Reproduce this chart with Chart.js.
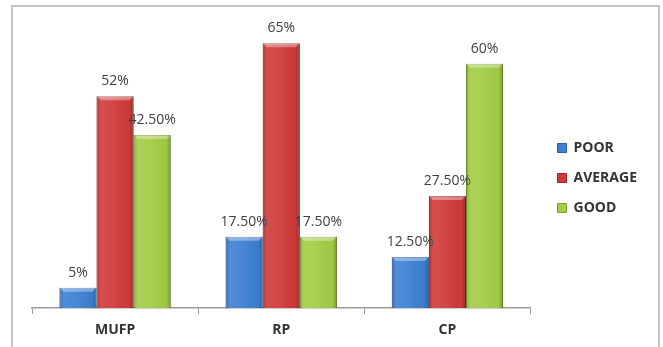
<!DOCTYPE html>
<html>
<head>
<meta charset="utf-8">
<script src="https://cdn.jsdelivr.net/npm/chart.js@4.4.1/dist/chart.umd.min.js"></script>
<style>
  html, body { margin: 0; padding: 0; background: #fff; }
  #wrap { width: 663px; height: 347px; position: relative; }
</style>
</head>
<body>
<div id="wrap"><canvas id="ratingChart"></canvas></div>
<script>
// chart values (percent)
const categories = ['MUFP', 'RP', 'CP'];
const poorValues = [5, 17.5, 12.5];
const averageValues = [52, 65, 27.5];
const goodValues = [42.5, 17.5, 60];
const seriesNames = ['POOR', 'AVERAGE', 'GOOD'];

const fillColors = ['#3d7fd2', '#d03a3a', '#a2cd45'];
const edgeColors = ['#2a5e9e', '#9c2626', '#7a9c2e'];

function fmt(v) {
    return Number.isInteger(v) ? v + '%' : v.toFixed(2) + '%';
}

// frame around the whole chart; also let the category labels run past the short axis box
const framePlugin = {
    id: 'frame',
    afterLayout(chart) {
        chart.scales.x.bottom = chart.height;
    },
    beforeDraw(chart) {
        const c = chart.ctx;
        c.save();
        c.strokeStyle = '#c4c4c4';
        c.lineWidth = 2;
        c.strokeRect(12, 6, chart.width - 16, chart.height + 10);
        c.restore();
    }
};

// bevel shading on bars + value labels
const barLook = {
    id: 'barLook',
    afterDatasetsDraw(chart) {
        const c = chart.ctx;
        chart.data.datasets.forEach((ds, di) => {
            const meta = chart.getDatasetMeta(di);
            meta.data.forEach((bar, i) => {
                const {x, y, base, width} = bar.getProps(['x', 'y', 'base', 'width'], true);
                const l = x - width / 2, r = x + width / 2;
                c.save();
                const g = c.createLinearGradient(l, 0, r, 0);
                g.addColorStop(0, 'rgba(0,0,0,0.18)');
                g.addColorStop(0.12, 'rgba(255,255,255,0.10)');
                g.addColorStop(0.5, 'rgba(255,255,255,0.06)');
                g.addColorStop(0.88, 'rgba(0,0,0,0.02)');
                g.addColorStop(1, 'rgba(0,0,0,0.28)');
                c.fillStyle = g;
                c.fillRect(l, y, width, base - y);
                // top cap
                c.beginPath();
                c.moveTo(l, y);
                c.lineTo(r, y);
                c.lineTo(r - 4, y + 4);
                c.lineTo(l + 4, y + 4);
                c.closePath();
                c.fillStyle = 'rgba(255,255,255,0.35)';
                c.fill();
                c.restore();

                c.save();
                c.fillStyle = '#404040';
                c.font = '14px "Open Sans"';
                c.textAlign = 'center';
                c.textBaseline = 'middle';
                c.fillText(fmt(ds.data[i]), x, y - 15);
                c.restore();
            });
        });
    }
};

const allValues = [poorValues, averageValues, goodValues];

new Chart(document.getElementById('ratingChart'), {
    type: 'bar',
    data: {
        labels: categories,
        datasets: seriesNames.map((name, k) => ({
            label: name,
            data: allValues[k],
            backgroundColor: fillColors[k],
            borderColor: edgeColors[k],
            borderWidth: 1,
            categoryPercentage: 0.67,
            barPercentage: 1
        }))
    },
    options: {
        responsive: true,
        maintainAspectRatio: false,
        animation: false,
        layout: { padding: { left: 12, top: 23, right: 16, bottom: 14 } },
        plugins: {
            legend: {
                position: 'right',
                labels: {
                    boxWidth: 9,
                    boxHeight: 9,
                    padding: 16,
                    color: '#333',
                    font: { family: 'Open Sans', size: 14, weight: 'bold' }
                }
            },
            tooltip: { enabled: false }
        },
        scales: {
            x: {
                grid: {
                    offset: true,
                    drawOnChartArea: false,
                    tickLength: 6,
                    color: '#9a9a9a'
                },
                border: { color: '#9a9a9a', width: 1.5 },
                ticks: {
                    padding: 8,
                    color: '#333',
                    font: { family: 'Open Sans', size: 14, weight: 'bold' }
                },
                afterFit(s) { s.height = 25; }
            },
            y: {
                position: 'left',
                min: 0,
                max: 70,
                ticks: { display: false },
                grid: { display: false },
                border: { display: false },
                afterFit(s) { s.width = 20; }
            },
            yRight: {
                type: 'linear',
                position: 'right',
                ticks: { display: false },
                grid: { display: false },
                border: { display: false },
                afterFit(s) { s.width = 11; }
            }
        }
    },
    plugins: [framePlugin, barLook]
});
</script>
</body>
</html>
